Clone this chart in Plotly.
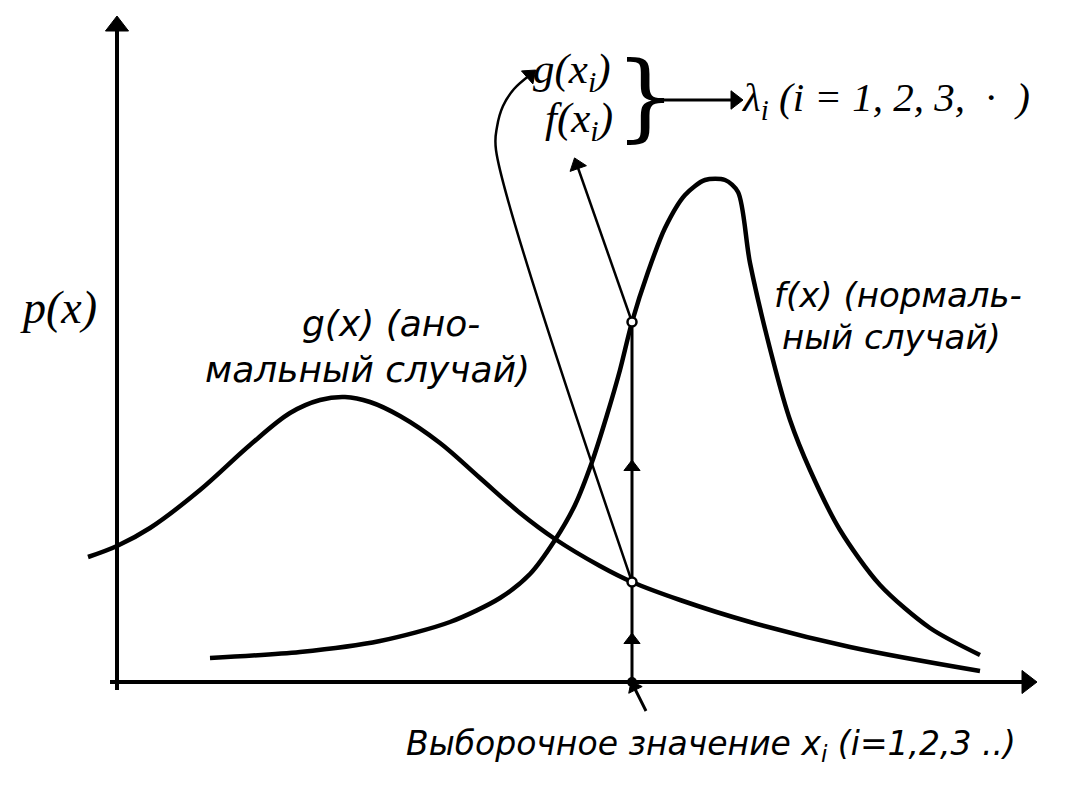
import plotly.graph_objects as go

# ---------------- data (schematic densities) ----------------
g_x = [-0.29, 0.00, 0.33, 0.83, 1.33, 1.73, 2.03, 2.28, 2.53, 2.83, 3.23, 3.63, 4.03,
       4.38, 4.83, 5.15, 5.63, 6.33, 7.33, 8.63]
g_p = [1.25, 1.36, 1.54, 1.92, 2.37, 2.69, 2.82, 2.85, 2.80, 2.66, 2.39, 2.04, 1.69,
       1.43, 1.16, 1.00, 0.82, 0.60, 0.35, 0.11]

f_x = [0.93, 1.83, 2.63, 3.33, 3.83, 4.13, 4.38, 4.58, 4.75, 4.90, 5.03, 5.15, 5.31,
       5.48, 5.68, 5.88, 6.08, 6.21, 6.33, 6.58, 6.73, 6.93, 7.23, 7.63, 8.13, 8.63]
f_p = [0.24, 0.30, 0.41, 0.60, 0.84, 1.08, 1.42, 1.77, 2.20, 2.67, 3.12, 3.60, 4.10,
       4.54, 4.87, 5.02, 5.02, 4.90, 4.19, 3.14, 2.62, 2.12, 1.52, 0.97, 0.54, 0.27]

x_i = 5.15          # sample value
f_xi = 3.60         # f(x_i)
g_xi = 1.00         # g(x_i)

# arrow from f(x_i) up to the label, and curved arrow from g(x_i) up to its label
f_arrow_x = [x_i, 4.60]
f_arrow_p = [f_xi, 5.17]
g_arrow_x = [x_i, 3.79, 3.80, 3.86, 3.97, 4.13]
g_arrow_p = [g_xi, 5.32, 5.55, 5.76, 5.93, 6.07]

# arrowheads along the vertical line (heights)
up_marks_p = [0.42, 2.15]

# pointer to the sample value and arrow to lambda
pointer_x = [x_i + 0.14, x_i + 0.02]
pointer_p = [-0.29, -0.05]
lam_x = [5.38, 6.18]
lam_p = [5.82, 5.82]

# axes extents
x_axis = ([-0.07, 9.10], [0, 0])
y_axis = ([0, 0], [-0.08, 6.56])

# ---------------- layout constants ----------------
W, H = 1070, 786
X0, Y0, S = 117, 682, 100   # origin pixel and pixels per unit


def px(xp, yp):
    """pixel position -> paper coords"""
    return xp / W, 1 - yp / H


SERIF = "Liberation Serif"
SANS = "DejaVu Sans"
INK = "black"

fig = go.Figure()


def arrow_line(xs, ys, width, head=14, shape="linear"):
    fig.add_trace(go.Scatter(
        x=xs, y=ys, mode="lines",
        line=dict(color=INK, width=width, shape=shape),
        hoverinfo="skip"))
    # arrowhead at the end, oriented along the last segment
    fig.add_trace(go.Scatter(
        x=xs[-2:], y=ys[-2:], mode="markers",
        marker=dict(symbol="triangle-up", angleref="previous", color=INK,
                    size=[1, head], opacity=1, line=dict(color=INK, width=1)),
        hoverinfo="skip"))


# axes
arrow_line(*y_axis, width=4, head=20)
arrow_line(*x_axis, width=4, head=20)

# curves
fig.add_trace(go.Scatter(x=g_x, y=g_p, mode="lines",
                         line=dict(color=INK, width=4.5, shape="spline", smoothing=1.0),
                         hoverinfo="skip"))
fig.add_trace(go.Scatter(x=f_x, y=f_p, mode="lines",
                         line=dict(color=INK, width=4.5, shape="spline", smoothing=0.8),
                         hoverinfo="skip"))

# vertical line at the sample value
fig.add_trace(go.Scatter(x=[x_i, x_i], y=[0, f_xi], mode="lines",
                         line=dict(color=INK, width=3), hoverinfo="skip"))
fig.add_trace(go.Scatter(x=[x_i] * len(up_marks_p), y=up_marks_p, mode="markers",
                         marker=dict(symbol="triangle-up", size=14, color=INK, opacity=1,
                                     line=dict(color=INK, width=1)),
                         hoverinfo="skip"))

# lines from f(x_i), g(x_i) to their labels
arrow_line(f_arrow_x, f_arrow_p, width=2.5, head=15)
arrow_line(g_arrow_x, g_arrow_p, width=2.5, head=15, shape="spline")

# pointer and lambda arrows
arrow_line(pointer_x, pointer_p, width=3, head=13)
arrow_line(lam_x, lam_p, width=3, head=16)

# circles at intersections
fig.add_trace(go.Scatter(x=[x_i, x_i], y=[f_xi, g_xi], mode="markers",
                         marker=dict(size=9, color="white", opacity=1,
                                     line=dict(color=INK, width=2.5)),
                         hoverinfo="skip"))
# dot on the x axis
fig.add_trace(go.Scatter(x=[x_i], y=[0], mode="markers",
                         marker=dict(size=10, color=INK, opacity=1), hoverinfo="skip"))

annotations = []


def text(s, xp, yp, size, family, anchor="left", italic=True):
    x, y = px(xp, yp)
    annotations.append(dict(x=x, y=y, xref="paper", yref="paper", text=s,
                            showarrow=False, xanchor=anchor, yanchor="middle",
                            font=dict(family=family, size=size, color=INK,
                                      style="italic" if italic else "normal")))


text("g(x<sub>i</sub>)", 572, 72, 43, SERIF, anchor="center")
text("f(x<sub>i</sub>)", 579, 121, 43, SERIF, anchor="center")
text("}", 645, 96, 96, "DejaVu Serif", anchor="center", italic=False)
text("λ<sub>i</sub> (i = 1, 2, 3,  ·  )", 740, 100, 41, SERIF)
text("p(x)", 18, 307, 46, SERIF)
text("g(x) (ано-", 300, 323, 36, SANS)
text("мальный случай)", 203, 370, 36, SANS)
text("f(x) (нормаль-", 772, 295, 34, SANS)
text("ный случай)", 780, 337, 34, SANS)
text("Выборочное значение x<sub>i</sub> (i=1,2,3 ..)", 404, 745, 33, SANS)

fig.update_layout(
    width=W, height=H,
    margin=dict(l=0, r=0, t=0, b=0),
    paper_bgcolor="white", plot_bgcolor="white",
    showlegend=False,
    annotations=annotations,
    xaxis=dict(range=[-X0 / S, (W - X0) / S], visible=False, fixedrange=True),
    yaxis=dict(range=[(Y0 - H) / S, Y0 / S], visible=False, fixedrange=True),
)

fig.write_html("out.html", config={"displayModeBar": False},
               post_script="document.body.style.margin='0';document.body.style.padding='0';")
